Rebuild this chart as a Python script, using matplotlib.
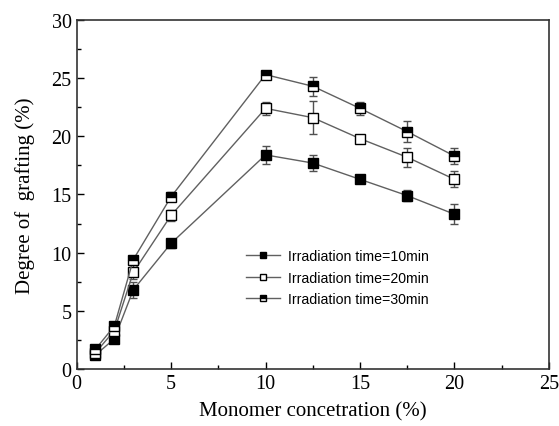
import matplotlib
matplotlib.use('Agg')
import matplotlib.pyplot as plt
from matplotlib.ticker import MultipleLocator

conc = [1, 2, 3, 5, 10, 12.5, 15, 17.5, 20]

g10 = [1.2, 2.6, 6.8, 10.8, 18.4, 17.7, 16.3, 14.9, 13.3]
e10 = [0.25, 0.3, 0.7, 0.4, 0.75, 0.7, 0.35, 0.5, 0.85]

g20 = [1.4, 3.3, 8.3, 13.2, 22.4, 21.6, 19.8, 18.2, 16.3]
e20 = [0.25, 0.3, 0.6, 0.45, 0.55, 1.4, 0.2, 0.8, 0.7]

g30 = [1.7, 3.7, 9.4, 14.8, 25.3, 24.3, 22.4, 20.4, 18.3]
e30 = [0.2, 0.25, 0.35, 0.4, 0.2, 0.8, 0.55, 0.9, 0.7]

labels = ['Irradiation time=10min', 'Irradiation time=20min', 'Irradiation time=30min']

plt.rcParams['font.family'] = 'Liberation Serif'

fig = plt.figure(figsize=(5.59, 4.27), dpi=100)
ax = fig.add_axes([0.137, 0.1335, 0.845, 0.8175])

line_c = '#606060'
common = dict(color=line_c, lw=1.0, ms=7, mec='black', mew=1.0,
              ecolor='#505050', elinewidth=1.0, capsize=3, capthick=1.0)

ax.errorbar(conc, g10, yerr=e10, marker='s', mfc='black', label=labels[0], **common)
ax.errorbar(conc, g20, yerr=e20, marker='s', mfc='white', label=labels[1], **common)
ax.errorbar(conc, g30, yerr=e30, marker='s', mfc='black', fillstyle='top',
            markerfacecoloralt='white', label=labels[2], **common)

ax.set_xlim(0, 25)
ax.set_ylim(0, 30)
ax.xaxis.set_major_locator(MultipleLocator(5))
ax.xaxis.set_minor_locator(MultipleLocator(2.5))
ax.yaxis.set_major_locator(MultipleLocator(5))
ax.yaxis.set_minor_locator(MultipleLocator(2.5))
ax.tick_params(which='both', direction='in', top=False, right=False, labelsize=14.5)
ax.tick_params(which='major', length=5, width=1.0)
ax.tick_params(which='minor', length=3, width=1.0)
for s in ax.spines.values():
    s.set_linewidth(1.2)
    s.set_color('#333333')

ax.set_xlabel('Monomer concetration (%)', fontsize=15, labelpad=6)
ax.set_ylabel('Degree of  grafting (%)', fontsize=15, labelpad=12)

handles, labs = ax.get_legend_handles_labels()
handles = [h[0] for h in handles]
leg = ax.legend(handles, labs, loc='center', bbox_to_anchor=(0.553, 0.262),
                frameon=False,
                prop={'family': 'Liberation Sans', 'size': 10.2},
                handlelength=2.4, handletextpad=0.55, labelspacing=0.5, markerscale=0.7)

fig.savefig('out.png', dpi=100)
